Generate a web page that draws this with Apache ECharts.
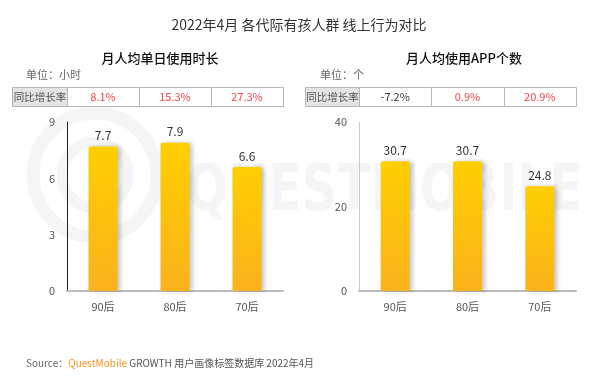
<!DOCTYPE html>
<html>
<head>
<meta charset="utf-8">
<script src="https://cdn.jsdelivr.net/npm/echarts@6/dist/echarts.min.js"></script>
<style>
html,body{margin:0;padding:0;background:#fff;}
#c{width:598px;height:379px;}
</style>
</head>
<body>
<div id="c"></div>
<script>
// ---- data ----
const categories = ['90后', '80后', '70后'];
const dailyHours = [7.7, 7.9, 6.6];
const appCounts = [30.7, 30.7, 24.8];
const growthHours = ['8.1%', '15.3%', '27.3%'];
const growthApps = ['-7.2%', '0.9%', '20.9%'];
const hoursAxis = { min: 0, max: 9, interval: 3 };
const appsAxis = { min: 0, max: 40, interval: 20 };
const mainTitle = '2022年4月 各代际有孩人群 线上行为对比';
const subTitles = ['月人均单日使用时长', '月人均使用APP个数'];
const unitLabels = ['单位：小时', '单位：个'];
const tableHeader = '同比增长率';

const FONT = '"Noto Sans CJK SC", "Microsoft YaHei", sans-serif';
const chart = echarts.init(document.getElementById('c'), null, { renderer: 'canvas' });

const barGradient = new echarts.graphic.LinearGradient(0, 0, 0, 1, [
  { offset: 0, color: '#FFCF00' },
  { offset: 1, color: '#FAB21C' }
]);

function yAxisCfg(range, idx, lineColor) {
  return {
    type: 'value', gridIndex: idx, min: range.min, max: range.max, interval: range.interval,
    axisLine: { show: true, lineStyle: { color: lineColor, width: 1 } },
    axisTick: { show: false },
    splitLine: { show: false },
    axisLabel: { color: '#555', fontSize: 11, margin: 12, fontFamily: FONT }
  };
}
function xAxisCfg(idx) {
  return {
    type: 'category', gridIndex: idx, data: categories,
    axisLine: { show: true, lineStyle: { color: '#bbb', width: 2 } },
    axisTick: { show: false },
    axisLabel: { color: '#555', fontSize: 11, margin: 10, fontFamily: FONT }
  };
}
function barSeries(values, idx) {
  return {
    type: 'bar', xAxisIndex: idx, yAxisIndex: idx, data: values, barWidth: 29,
    itemStyle: {
      color: barGradient, borderRadius: [2, 2, 0, 0],
      shadowColor: 'rgba(0,0,0,0.22)', shadowBlur: 4, shadowOffsetX: 3, shadowOffsetY: 0
    },
    label: { show: true, position: 'top', color: '#333', fontSize: 12, distance: 5, fontFamily: FONT }
  };
}

chart.setOption({
  animation: false,
  backgroundColor: '#fff',
  grid: [
    { left: 67, right: 315, top: 122, bottom: 88 },
    { left: 359, right: 22, top: 122, bottom: 88 }
  ],
  xAxis: [xAxisCfg(0), xAxisCfg(1)],
  yAxis: [yAxisCfg(hoursAxis, 0, '#222'), yAxisCfg(appsAxis, 1, '#ccc')],
  series: [barSeries(dailyHours, 0), barSeries(appCounts, 1)]
});

// ---- texts, table & watermark ----
const g = [];
const WM = '#f5f5f5';
// watermark logo
g.push({ type: 'circle', z: -10, shape: { cx: 95, cy: 175, r: 62 }, style: { fill: 'none', stroke: WM, lineWidth: 13 } });
g.push({ type: 'circle', z: -10, shape: { cx: 95, cy: 175, r: 33 }, style: { fill: 'none', stroke: WM, lineWidth: 11 } });
g.push({ type: 'text', z: -10, x: 186, y: 193, scaleX: 0.77,
  style: { text: 'QUESTMOBILE', fill: WM, fontSize: 64, fontFamily: '"DejaVu Sans", sans-serif', fontWeight: 'bold', align: 'left', verticalAlign: 'middle' } });

g.push({ type: 'text', x: 299, y: 25, style: { text: mainTitle, fill: '#333', fontSize: 14, fontFamily: FONT, align: 'center', verticalAlign: 'middle' } });

const tableLefts = [12, 305];
const unitX = [26, 320];
const subX = [160, 464];
const growths = [growthHours, growthApps];
[0, 1].forEach(function (i) {
  const centers = categories.map(function (c) { return chart.convertToPixel({ xAxisIndex: i }, c); });
  const band = centers[1] - centers[0];
  const gridLeft = centers[0] - band / 2;
  g.push({ type: 'text', x: subX[i], y: 58, style: { text: subTitles[i], fill: '#111', fontSize: 13, fontWeight: 500, fontFamily: FONT, align: 'center', verticalAlign: 'middle' } });
  g.push({ type: 'text', x: unitX[i], y: 75, style: { text: unitLabels[i], fill: '#666', fontSize: 11, fontFamily: FONT, align: 'left', verticalAlign: 'middle' } });
  const top = 87.5, h = 19;
  const lx = Math.round(tableLefts[i]) + 0.5;
  const gl = Math.round(gridLeft) + 0.5;
  g.push({ type: 'rect', z: 5, shape: { x: lx, y: top, width: gl - lx, height: h }, style: { fill: '#e4e4e4', stroke: '#b5b5b5', lineWidth: 1 } });
  g.push({ type: 'text', z: 6, x: (lx + gl) / 2, y: top + h / 2, style: { text: tableHeader, fill: '#555', fontSize: 10.5, fontFamily: FONT, align: 'center', verticalAlign: 'middle' } });
  growths[i].forEach(function (v, k) {
    const x0 = Math.round(centers[k] - band / 2) + 0.5;
    const x1 = Math.round(centers[k] + band / 2) + 0.5;
    g.push({ type: 'rect', z: 5, shape: { x: x0, y: top, width: x1 - x0, height: h }, style: { fill: '#fff', stroke: '#b5b5b5', lineWidth: 1 } });
    const neg = parseFloat(v) < 0;
    g.push({ type: 'text', z: 6, x: centers[k], y: top + h / 2, style: { text: v, fill: neg ? '#333' : '#f04848', fontSize: 11, fontFamily: FONT, align: 'center', verticalAlign: 'middle' } });
  });
});

g.push({ type: 'text', x: 26, y: 363, style: {
  text: '{a|Source：}{b|QuestMobile}{c| GROWTH 用户画像标签数据库 2022年4月}',
  fontSize: 10, fontFamily: FONT, align: 'left', verticalAlign: 'middle',
  rich: {
    a: { fill: '#666', fontSize: 10, fontFamily: FONT },
    b: { fill: '#F7941D', fontSize: 10, fontFamily: FONT },
    c: { fill: '#555', fontSize: 10, fontFamily: FONT }
  }
} });

chart.setOption({ graphic: g });
</script>
</body>
</html>
